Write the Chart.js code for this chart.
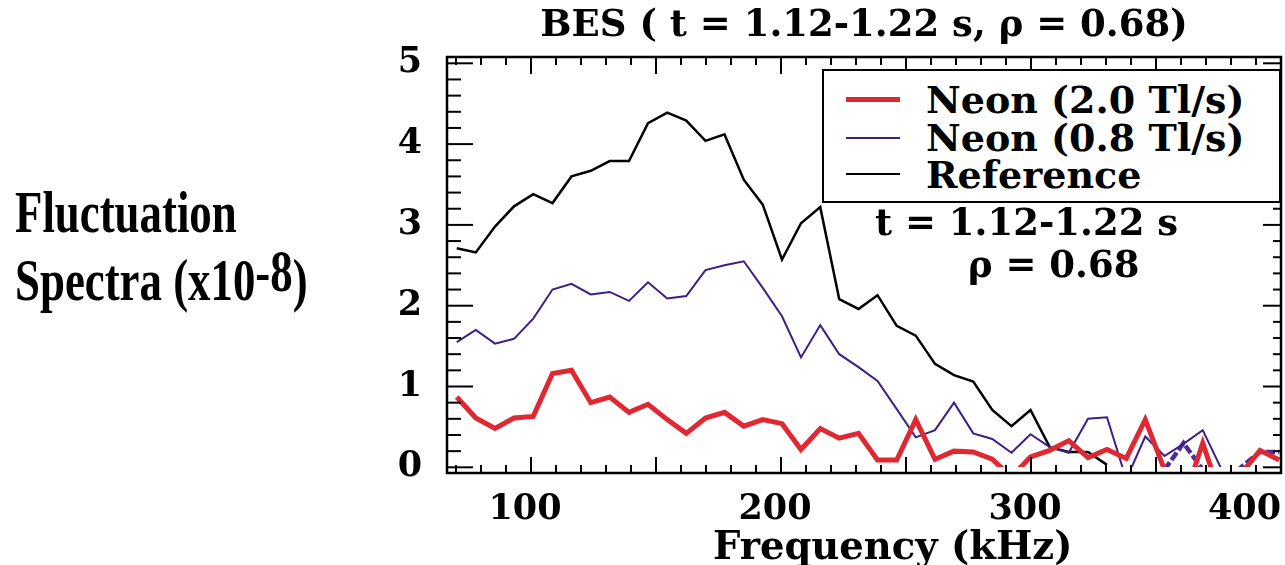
<!DOCTYPE html>
<html><head><meta charset="utf-8">
<script src="https://cdn.jsdelivr.net/npm/chart.js@4.4.1/dist/chart.umd.min.js"></script>
<style>
html,body{margin:0;padding:0;background:#fff;overflow:hidden;}
#wrap{position:relative;width:1285px;height:565px;}
canvas{position:absolute;left:0;top:0;}
.t{position:absolute;white-space:nowrap;color:#000;font-family:'DejaVu Serif',serif;font-weight:bold;font-size:37px;line-height:37px;}
.ylab{position:absolute;white-space:nowrap;color:#000;font-family:'Liberation Serif','Times New Roman',serif;font-weight:bold;font-size:59px;line-height:59px;transform:scaleX(0.76);transform-origin:0 0;}
#legend{position:absolute;left:822px;top:69px;width:459px;height:134px;border:2.5px solid #000;box-sizing:border-box;background:#fff;}
.lrow{position:absolute;left:22px;height:37px;width:430px;}
.lsample{position:absolute;left:0;width:54px;}
.ltext{position:absolute;left:80px;top:0;white-space:nowrap;font-family:'DejaVu Serif',serif;font-weight:bold;font-size:38px;line-height:37px;color:#000;}
</style></head><body>
<div id="wrap">
<canvas id="c" width="1285" height="565"></canvas>
<div class="ylab" style="left:15px;top:183px">Fluctuation</div>
<div class="ylab" style="left:15px;top:251px">Spectra (x10<span style="position:relative;top:-9px">-8</span>)</div>
<div class="t" style="left:713px;top:527px;font-size:38.5px">Frequency (kHz)</div>
<div class="t" style="left:875px;top:204px">t = 1.12-1.22 s</div>
<div class="t" style="left:968px;top:246px">ρ = 0.68</div>
<div id="legend"></div>
</div>
<script>
// ---- data ----
const freqKHz = [70.3, 77.9, 85.6, 93.2, 100.9, 108.6, 116.2, 123.9, 131.5, 139.2, 146.8, 154.5, 162.1, 169.8, 177.4, 185.1, 192.7, 200.4, 208.0, 215.7, 223.3, 231.0, 238.6, 246.3, 253.9, 261.6, 269.2, 276.9, 284.5, 292.2, 299.8, 307.5, 315.1, 322.8, 330.4, 338.1, 345.7, 353.4, 361.0, 368.7, 376.3, 384.0, 391.6, 399.3];
const neon20 = [0.87, 0.61, 0.48, 0.61, 0.63, 1.16, 1.20, 0.80, 0.87, 0.68, 0.78, 0.59, 0.42, 0.61, 0.68, 0.51, 0.59, 0.54, 0.22, 0.48, 0.36, 0.42, 0.09, 0.09, 0.59, 0.10, 0.20, 0.19, 0.10, -0.12, 0.13, 0.21, 0.33, 0.12, 0.22, 0.11, 0.59, -0.03, -0.42, 0.30, -0.40, -0.08, 0.21, 0.09];
const neon08 = [1.55, 1.70, 1.53, 1.59, 1.84, 2.20, 2.27, 2.14, 2.17, 2.06, 2.29, 2.09, 2.12, 2.44, 2.50, 2.55, 2.22, 1.87, 1.36, 1.76, 1.40, 1.24, 1.07, 0.72, 0.37, 0.46, 0.80, 0.42, 0.35, 0.18, 0.41, 0.25, 0.18, 0.60, 0.62, -0.15, 0.38, 0.14, 0.29, 0.46, -0.03, null, null, null];
const reference = [2.71, 2.66, 2.98, 3.23, 3.38, 3.27, 3.60, 3.67, 3.79, 3.79, 4.26, 4.39, 4.29, 4.04, 4.12, 3.56, 3.25, 2.57, 3.02, 3.22, 2.08, 1.96, 2.13, 1.75, 1.63, 1.28, 1.14, 1.06, 0.71, 0.51, 0.71, 0.25, 0.19, 0.19, 0.03, null, null, null, null, null, null, null, null, null];
const dashedTrace = [null, null, null, null, null, null, null, null, null, null, null, null, null, null, null, null, null, null, null, null, null, null, null, null, null, null, null, null, null, null, null, null, null, null, null, null, null, -0.03, 0.30, -0.03, -0.30, 0.00, 0.19, 0.19];
const seriesLabels = ['Neon (2.0 Tl/s)', 'Neon (0.8 Tl/s)', 'Reference'];
const xTickLabels = ['100', '200', '300', '400'];
const yTickLabels = ['0', '1', '2', '3', '4', '5'];
const chartTitle = 'BES ( t = 1.12-1.22 s, ρ = 0.68)';

const pts = arr => freqKHz.map((f, i) => ({x: f, y: arr[i]}));
const clipAtZero = {left: 0, top: 0, right: 0, bottom: -6};
const common = {pointRadius: 0, tension: 0, fill: false, spanGaps: false, clip: clipAtZero};

const serifFont = (size) => ({family: "'DejaVu Serif', serif", size: size, weight: 'bold', lineHeight: 1.2});

const framePlugin = {
  id: 'frame',
  beforeDraw(chart) {
    const x = chart.scales.x;
    const items = x.getLabelItems();
    if (items.length) {
      const last = items[items.length - 1];
      last.options.textAlign = 'right';
      last.options.translation[0] = x.getPixelForValue(x.max);
    }
  },
  afterDatasetsDraw(chart) {
    const {ctx, chartArea: a, scales: {x, y}} = chart;
    ctx.save();
    ctx.strokeStyle = '#000';
    ctx.lineWidth = 2;
    const line = (x1, y1, x2, y2) => { ctx.beginPath(); ctx.moveTo(x1, y1); ctx.lineTo(x2, y2); ctx.stroke(); };
    x.ticks.forEach(t => {
      const px = x.getPixelForValue(t.value);
      const major = Math.abs(t.value / 50 - Math.round(t.value / 50)) < 1e-6;
      line(px, a.bottom, px, a.bottom - (major ? 16 : 8));
      line(px, a.top, px, a.top + (major ? 17 : 8));
    });
    y.ticks.forEach(t => {
      const py = y.getPixelForValue(t.value);
      const major = Math.abs(t.value - Math.round(t.value)) < 1e-6;
      line(a.left, py, a.left + (major ? 26 : 14), py);
      line(a.right, py, a.right - (major ? 18 : 8), py);
    });
    ctx.lineWidth = 2.5;
    ctx.strokeRect(a.left, a.top, a.right - a.left, a.bottom - a.top);
    ctx.restore();
  }
};

const chart = new Chart(document.getElementById('c'), {
  type: 'line',
  data: {
    datasets: [
      Object.assign({label: seriesLabels[0], data: pts(neon20), borderColor: '#e02833', borderWidth: 5}, common),
      Object.assign({label: seriesLabels[1], data: pts(neon08), borderColor: '#3b1f88', borderWidth: 2}, common),
      Object.assign({label: seriesLabels[2], data: pts(reference), borderColor: '#000000', borderWidth: 2.5}, common),
      Object.assign({label: '', data: pts(dashedTrace), borderColor: '#4b2a99', borderWidth: 4.5, borderDash: [9, 3]}, common)
    ]
  },
  options: {
    responsive: false,
    animation: false,
    devicePixelRatio: 1,
    layout: {padding: {left: 0, right: 4, top: 0, bottom: 0}},
    plugins: {
      legend: {display: false},
      tooltip: {enabled: false},
      title: {
        display: true, text: chartTitle, color: '#000', fullSize: false,
        font: serifFont(37), padding: {top: 4, bottom: 8.6}
      }
    },
    scales: {
      x: {
        type: 'linear', position: 'bottom', min: 66.4, max: 400,
        grid: {display: false}, border: {display: false},
        ticks: {
          stepSize: 10, autoSkip: false, maxRotation: 0, includeBounds: false, maxTicksLimit: 200,
          color: '#000', font: serifFont(35), padding: 7.5, labelOffset: -6,
          callback: v => { const s = String(Math.round(v)); return xTickLabels.includes(s) && Math.abs(v - Math.round(v)) < 1e-6 ? s : ''; }
        },
        afterFit: s => { s.paddingLeft = 0; s.paddingRight = 0; s.height = 92; }
      },
      y: {
        type: 'linear', min: -0.0705, max: 5.078,
        grid: {display: false}, border: {display: false},
        ticks: {
          stepSize: 0.2, autoSkip: false, includeBounds: false, maxTicksLimit: 200,
          color: '#000', font: serifFont(35), padding: 17,
          callback: v => { const r = Math.round(v); return Math.abs(v - r) < 1e-6 && yTickLabels.includes(String(r)) ? String(r) : ''; }
        },
        afterFit: s => { s.width = 447; }
      }
    }
  },
  plugins: [framePlugin]
});

// HTML legend built from the chart's datasets
const legendEl = document.getElementById('legend');
const rowTops = [10, 48, 85];
chart.data.datasets.filter(d => d.label).forEach((d, i) => {
  const row = document.createElement('div');
  row.className = 'lrow';
  row.style.top = rowTops[i] + 'px';
  const s = document.createElement('div');
  s.className = 'lsample';
  s.style.top = (18.5 - d.borderWidth / 2) + 'px';
  s.style.borderTop = d.borderWidth + 'px solid ' + d.borderColor;
  const tx = document.createElement('div');
  tx.className = 'ltext';
  tx.textContent = d.label;
  row.appendChild(s); row.appendChild(tx);
  legendEl.appendChild(row);
});
</script>
</body></html>
